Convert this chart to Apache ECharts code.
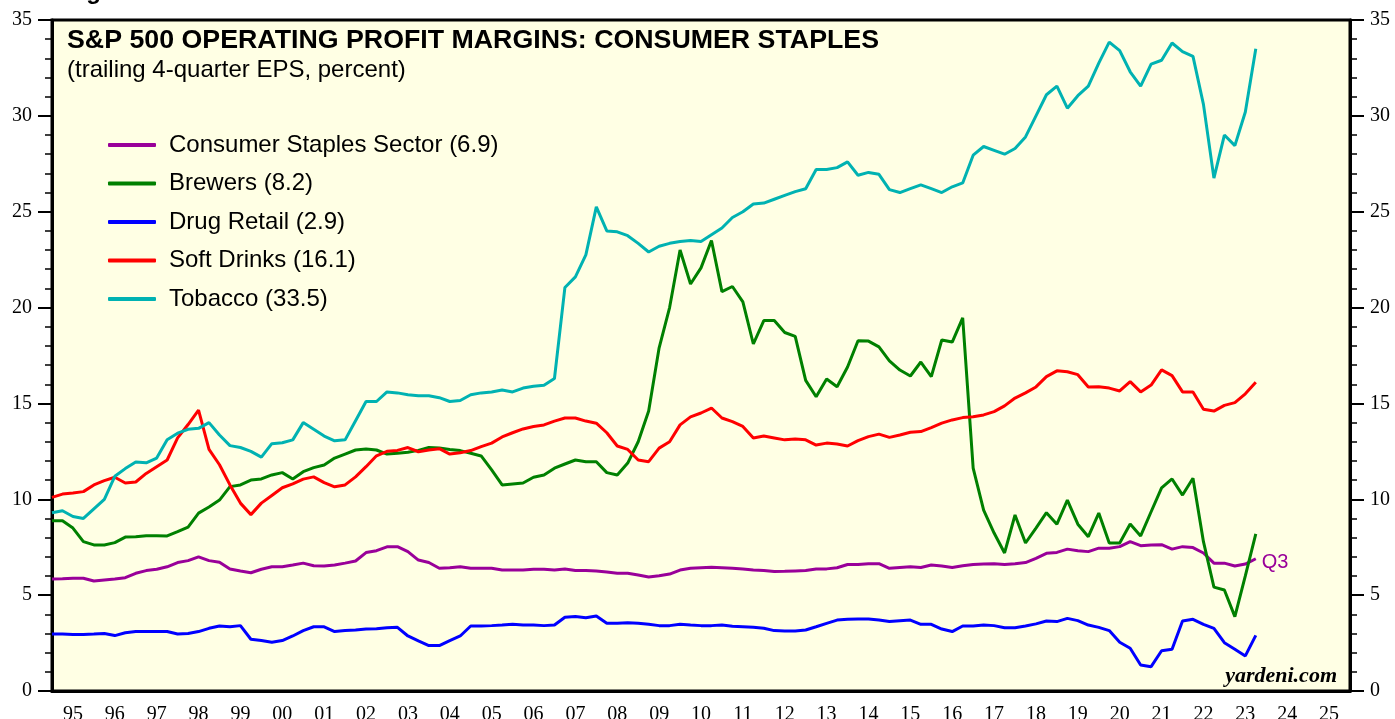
<!DOCTYPE html>
<html>
<head>
<meta charset="utf-8">
<script src="https://cdn.jsdelivr.net/npm/echarts@6/dist/echarts.min.js"></script>
<style>
  html, body { margin: 0; padding: 0; background: #fff; }
  #chart { width: 1395px; height: 719px; }
</style>
</head>
<body>
<div id="chart"></div>
<script>
// year tick labels (category boundaries = year starts)
const yearLabels = ['95', '96', '97', '98', '99', '00', '01', '02', '03', '04', '05', '06', '07', '08', '09', '10',
  '11', '12', '13', '14', '15', '16', '17', '18', '19', '20', '21', '22', '23', '24', '25']

// quarterly readings, first point at start of 1995, last = 2023 Q3
const firstYear = 1995

const staples = [5.84, 5.85, 5.88, 5.88, 5.74, 5.79, 5.84, 5.91, 6.14, 6.28,
  6.35, 6.48, 6.7, 6.8, 7.0, 6.8, 6.72, 6.36, 6.26, 6.17,
  6.35, 6.48, 6.48, 6.57, 6.67, 6.53, 6.52, 6.57, 6.67, 6.78,
  7.22, 7.32, 7.52, 7.53, 7.27, 6.83, 6.7, 6.4, 6.43, 6.48,
  6.4, 6.4, 6.4, 6.31, 6.31, 6.31, 6.35, 6.35, 6.31, 6.36,
  6.28, 6.28, 6.26, 6.21, 6.14, 6.14, 6.05, 5.95, 6.01, 6.1,
  6.31, 6.4, 6.43, 6.45, 6.43, 6.4, 6.36, 6.31, 6.28, 6.23,
  6.24, 6.26, 6.28, 6.36, 6.37, 6.43, 6.6, 6.6, 6.64, 6.64,
  6.4, 6.44, 6.48, 6.44, 6.57, 6.52, 6.44, 6.53, 6.6, 6.62,
  6.64, 6.6, 6.64, 6.7, 6.92, 7.18, 7.23, 7.4, 7.32, 7.27,
  7.45, 7.45, 7.53, 7.79, 7.58, 7.62, 7.63, 7.4, 7.53, 7.48,
  7.2, 6.67, 6.67, 6.52, 6.62, 6.9]

const brewers = [8.88, 8.88, 8.5, 7.79, 7.62, 7.62, 7.74, 8.03, 8.05, 8.1,
  8.1, 8.09, 8.31, 8.55, 9.28, 9.6, 9.96, 10.66, 10.75, 11.0,
  11.06, 11.27, 11.39, 11.06, 11.44, 11.65, 11.79, 12.15, 12.36, 12.57,
  12.62, 12.57, 12.36, 12.4, 12.45, 12.55, 12.7, 12.67, 12.6, 12.54,
  12.4, 12.26, 11.53, 10.75, 10.8, 10.85, 11.15, 11.27, 11.62, 11.84,
  12.05, 11.96, 11.96, 11.39, 11.27, 11.89, 13.0, 14.6, 17.9, 20.0,
  23.0, 21.23, 22.07, 23.5, 20.83, 21.1, 20.3, 18.1, 19.32, 19.32,
  18.7, 18.5, 16.2, 15.35, 16.27, 15.87, 16.9, 18.27, 18.25, 17.95,
  17.22, 16.74, 16.43, 17.16, 16.4, 18.31, 18.2, 19.46, 11.63, 9.44,
  8.24, 7.2, 9.18, 7.72, 8.5, 9.3, 8.7, 9.96, 8.7, 8.05,
  9.28, 7.72, 7.72, 8.71, 8.09, 9.35, 10.59, 11.06, 10.22, 11.1,
  7.79, 5.42, 5.27, 3.88, 6.0, 8.2]

const drugRetail = [2.97, 2.97, 2.95, 2.95, 2.97, 3.0, 2.89, 3.04, 3.1, 3.1,
  3.1, 3.1, 2.97, 3.0, 3.1, 3.27, 3.39, 3.35, 3.41, 2.7,
  2.63, 2.54, 2.63, 2.87, 3.15, 3.35, 3.35, 3.1, 3.15, 3.18,
  3.23, 3.25, 3.3, 3.32, 2.87, 2.61, 2.37, 2.37, 2.63, 2.87,
  3.39, 3.39, 3.41, 3.44, 3.48, 3.44, 3.44, 3.41, 3.44, 3.85,
  3.88, 3.82, 3.91, 3.53, 3.53, 3.56, 3.53, 3.48, 3.41, 3.41,
  3.48, 3.44, 3.41, 3.41, 3.44, 3.38, 3.35, 3.32, 3.27, 3.15,
  3.13, 3.13, 3.18, 3.35, 3.53, 3.7, 3.74, 3.76, 3.76, 3.7,
  3.62, 3.67, 3.7, 3.48, 3.48, 3.23, 3.1, 3.39, 3.39, 3.44,
  3.41, 3.3, 3.3, 3.39, 3.5, 3.65, 3.62, 3.79, 3.67, 3.44,
  3.32, 3.15, 2.54, 2.23, 1.36, 1.27, 2.1, 2.18, 3.65, 3.74,
  3.48, 3.27, 2.52, 2.18, 1.83, 2.9]

const softDrinks = [10.1, 10.27, 10.33, 10.4, 10.75, 10.97, 11.15, 10.85, 10.9, 11.35,
  11.7, 12.05, 13.2, 13.9, 14.65, 12.6, 11.8, 10.75, 9.8, 9.2,
  9.8, 10.2, 10.6, 10.8, 11.05, 11.17, 10.87, 10.65, 10.75, 11.17,
  11.7, 12.27, 12.5, 12.55, 12.7, 12.48, 12.57, 12.64, 12.36, 12.43,
  12.54, 12.75, 12.93, 13.25, 13.47, 13.67, 13.8, 13.88, 14.08, 14.24,
  14.24, 14.08, 13.97, 13.47, 12.78, 12.6, 12.05, 11.96, 12.67, 13.0,
  13.88, 14.3, 14.5, 14.76, 14.24, 14.05, 13.8, 13.2, 13.3, 13.2,
  13.1, 13.15, 13.1, 12.83, 12.93, 12.88, 12.78, 13.06, 13.27, 13.4,
  13.23, 13.35, 13.5, 13.53, 13.74, 13.97, 14.14, 14.26, 14.3, 14.4,
  14.57, 14.87, 15.28, 15.55, 15.86, 16.4, 16.7, 16.65, 16.5, 15.86,
  15.87, 15.8, 15.65, 16.14, 15.6, 15.96, 16.75, 16.45, 15.6, 15.6,
  14.7, 14.6, 14.9, 15.04, 15.5, 16.1]

const tobacco = [9.3, 9.4, 9.1, 9.0, 9.5, 10.0, 11.2, 11.6, 11.95, 11.9,
  12.15, 13.1, 13.45, 13.65, 13.7, 14.0, 13.35, 12.8, 12.7, 12.5,
  12.2, 12.9, 12.95, 13.1, 14.0, 13.65, 13.3, 13.05, 13.1, 14.1,
  15.1, 15.1, 15.6, 15.55, 15.45, 15.4, 15.4, 15.3, 15.1, 15.15,
  15.45, 15.55, 15.6, 15.7, 15.6, 15.8, 15.9, 15.95, 16.3, 21.05,
  21.6, 22.75, 25.25, 24.0, 23.95, 23.75, 23.35, 22.9, 23.2, 23.35,
  23.45, 23.5, 23.45, 23.8, 24.15, 24.7, 25.0, 25.4, 25.45, 25.65,
  25.85, 26.05, 26.2, 27.2, 27.2, 27.3, 27.6, 26.9, 27.05, 26.95,
  26.15, 26.0, 26.2, 26.4, 26.2, 26.0, 26.3, 26.5, 27.95, 28.4,
  28.2, 28.0, 28.3, 28.9, 30.0, 31.1, 31.55, 30.4, 31.05, 31.55,
  32.75, 33.85, 33.4, 32.3, 31.55, 32.7, 32.9, 33.8, 33.35, 33.1,
  30.6, 26.75, 29.0, 28.45, 30.2, 33.5]

const names = ['Consumer Staples Sector (6.9)', 'Brewers (8.2)', 'Drug Retail (2.9)', 'Soft Drinks (16.1)', 'Tobacco (33.5)']
const colors = ['#990099', '#008000', '#0000ff', '#ff0000', '#00b2b2']
const values = [staples, brewers, drugRetail, softDrinks, tobacco]

const toPairs = (arr) => arr.map((v, i) => [firstYear + i / 4, v])

const serif = 'Liberation Serif'
const sans = 'Liberation Sans'

const yAxisBase = (pos) => ({
  type: 'value',
  position: pos,
  min: 0,
  max: 35,
  interval: 5,
  axisLine: { show: true, lineStyle: { color: '#000', width: 3 } },
  axisTick: { show: true, length: 14, lineStyle: { color: '#000', width: 2 } },
  minorTick: { show: true, splitNumber: 5, length: 7, lineStyle: { color: '#000', width: 1.5 } },
  axisLabel: { fontFamily: serif, fontSize: 20, color: '#000', margin: 20 },
  splitLine: { show: false },
})

const chart = echarts.init(document.getElementById('chart'))
chart.setOption({
  backgroundColor: '#fff',
  animation: false,
  grid: {
    left: 52, right: 45, top: 20, bottom: 28,
    outerBoundsMode: 'none',
    containLabel: false,
    show: true, backgroundColor: '#ffffe4', borderColor: '#000', borderWidth: 3,
  },
  legend: {
    orient: 'vertical',
    left: 108,
    top: 133,
    padding: 0,
    itemWidth: 48,
    itemHeight: 4,
    itemGap: 14.5,
    icon: 'roundRect',
    textStyle: { fontFamily: sans, fontSize: 24, color: '#000', lineHeight: 24, padding: [0, 0, 0, 8] },
    data: names,
  },
  xAxis: [
    {
      type: 'category',
      data: yearLabels,
      boundaryGap: true,
      position: 'bottom',
      axisLine: { lineStyle: { color: '#000', width: 3 } },
      axisTick: { length: 10, lineStyle: { color: '#000', width: 2 } },
      axisLabel: { interval: 0, fontFamily: serif, fontSize: 20, color: '#000', margin: 14 },
      splitLine: { show: false },
    },
    { type: 'value', min: 1995, max: 2026, show: false },
  ],
  yAxis: [yAxisBase('left'), yAxisBase('right')],
  series: values.map((arr, k) => ({
    name: names[k],
    type: 'line',
    xAxisIndex: 1,
    yAxisIndex: 0,
    data: toPairs(arr),
    symbol: 'none',
    lineStyle: { color: colors[k], width: 3 },
    itemStyle: { color: colors[k] },
    endLabel: k === 0
      ? { show: true, formatter: 'Q3', color: colors[0], fontFamily: sans, fontSize: 20, distance: 6, offset: [0, 4] }
      : { show: false },
  })),
  graphic: [
    {
      type: 'text', x: 65, y: 4,
      style: { text: 'Figure 15.', font: 'bold 24px "Liberation Sans"', fill: '#000', textVerticalAlign: 'bottom' },
    },
    {
      type: 'text', x: 67, y: 29, scaleX: 1.07,
      style: { text: 'S&P 500 OPERATING PROFIT MARGINS: CONSUMER STAPLES', font: 'bold 25px "Liberation Sans"', fill: '#000' },
    },
    {
      type: 'text', left: 67, top: 58,
      style: { text: '(trailing 4-quarter EPS, percent)', font: '24px "Liberation Sans"', fill: '#000' },
    },
    {
      type: 'text', right: 58, top: 665,
      style: { text: 'yardeni.com', font: 'italic bold 22px "Liberation Serif"', fill: '#000' },
    },
  ],
})
</script>
</body>
</html>
